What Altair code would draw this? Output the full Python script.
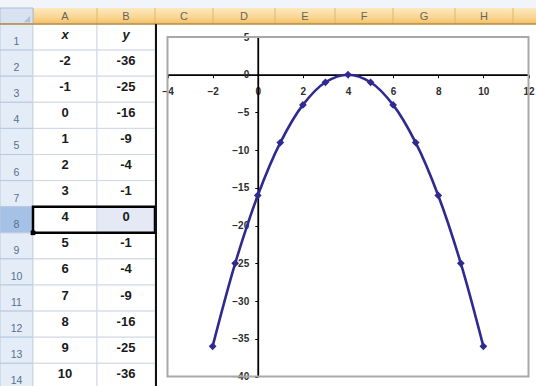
import altair as alt
import pandas as pd

# Worksheet contents: column A holds x, column B holds y = -(x - 4)^2
x_values = [-2, -1, 0, 1, 2, 3, 4, 5, 6, 7, 8, 9, 10]
y_values = [-36, -25, -16, -9, -4, -1, 0, -1, -4, -9, -16, -25, -36]
column_headers = ["x", "y"]
column_letters = ["A", "B", "C", "D", "E", "F", "G", "H", "I"]
row_numbers = list(range(1, 15))

# Embedded chart ticks
x_ticks = [-4, -2, 0, 2, 4, 6, 8, 10, 12]
y_ticks = [5, 0, -5, -10, -15, -20, -25, -30, -35, -40]
X_DOMAIN = [-4, 12]
Y_DOMAIN = [-40, 5]

# ---- layout (pixels) ----
W, H = 536, 386
ROW_HEAD_W = 33
COL_WIDTHS = [64, 58, 58, 62, 60, 58, 62, 58, 60]
HEAD_TOP, HEAD_BOTTOM = 8, 24
ROW_H = 26.1
ACTIVE_ROW = 8
CHART_LEFT = 156
PLOT_X = [167.5, 528.5]   # pixel of x-domain min, max
PLOT_Y = [376.5, 37.0]    # pixel of y-domain min, max
FONT = "Liberation Sans"
SERIES = "#2E2A8F"

# ---- worksheet tables ----
edges = [ROW_HEAD_W]
for w in COL_WIDTHS:
    edges.append(edges[-1] + w)
cols = pd.DataFrame({"letter": column_letters, "x0": edges[:-1], "x1": edges[1:]})
cols["xc"] = (cols.x0 + cols.x1) / 2
cols["y0"] = HEAD_TOP
cols["y1"] = HEAD_BOTTOM
cols["ym"] = (HEAD_TOP + HEAD_BOTTOM) / 2 + 0.5
cols["shown"] = cols.xc < W  # letters whose centre falls inside the window

rows = pd.DataFrame({"row": row_numbers})
rows["y0"] = HEAD_BOTTOM + (rows.row - 1) * ROW_H
rows["y1"] = rows.y0 + ROW_H
rows["ylab"] = rows.y0 + 18
rows["active"] = rows.row == ACTIVE_ROW
rows["x0"] = 0
rows["x1"] = ROW_HEAD_W
rows["xc"] = ROW_HEAD_W / 2

cell_recs = []
for r in row_numbers:
    y0 = HEAD_BOTTOM + (r - 1) * ROW_H
    for ci, letter in enumerate(["A", "B"]):
        if r == 1:
            txt = column_headers[ci]
        else:
            txt = str((x_values if ci == 0 else y_values)[r - 2])
        cell_recs.append({
            "x0": edges[ci], "x1": edges[ci + 1], "xc": (edges[ci] + edges[ci + 1]) / 2,
            "y0": y0, "y1": y0 + ROW_H, "ym": y0 + 10.5,
            "text": txt, "header": r == 1,
            "tint": (r == ACTIVE_ROW and letter == "B"),
        })
cells = pd.DataFrame(cell_recs)

sel = pd.DataFrame({
    "x0": [edges[0]], "x1": [edges[2]],
    "y0": [HEAD_BOTTOM + (ACTIVE_ROW - 1) * ROW_H],
    "y1": [HEAD_BOTTOM + ACTIVE_ROW * ROW_H],
})
strip = pd.DataFrame({"x0": [0], "x1": [W], "y0": [0], "y1": [HEAD_TOP]})
corner = pd.DataFrame({"x0": [0], "x1": [ROW_HEAD_W], "y0": [HEAD_TOP], "y1": [HEAD_BOTTOM],
                       "tx": [ROW_HEAD_W - 6], "ty": [HEAD_BOTTOM - 5]})
head_line = pd.DataFrame({"x0": [0], "x1": [W], "y": [HEAD_BOTTOM]})
chart_edge = pd.DataFrame({"x": [CHART_LEFT], "y0": [HEAD_BOTTOM], "y1": [H]})

sx = alt.Scale(domain=[0, W], range=[0, W], nice=False, zero=False)
sy = alt.Scale(domain=[0, H], range=[0, H], nice=False, zero=False)


def SX(f):
    return alt.X(f"{f}:Q", scale=sx, axis=None)


def SY(f):
    return alt.Y(f"{f}:Q", scale=sy, axis=None)


orange = alt.LinearGradient(
    gradient="linear", x1=0, x2=0, y1=0, y2=1,
    stops=[alt.GradientStop(color="#FCE9C0", offset=0),
           alt.GradientStop(color="#F9D796", offset=0.55),
           alt.GradientStop(color="#F4C063", offset=1)],
)

cell_text = dict(font=FONT, fontSize=13, fontWeight="bold", color="#1A1A1A",
                 baseline="middle", align="center")

sheet = alt.layer(
    alt.Chart(strip).mark_rect(fill="#F1F5FB").encode(
        x=SX("x0"), x2="x1", y=SY("y0"), y2="y1"),
    alt.Chart(cols).mark_rect(fill=orange).encode(
        x=SX("x0"), x2="x1", y=SY("y0"), y2="y1"),
    alt.Chart(cols).mark_rule(color="#E2B66A", strokeWidth=1).encode(
        x=SX("x0"), y=SY("y0"), y2="y1"),
    alt.Chart(cols).transform_filter("datum.shown").mark_text(
        font=FONT, fontSize=11, color="#6A6458", baseline="middle", align="center").encode(
        x=SX("xc"), y=SY("ym"), text="letter"),
    alt.Chart(corner).mark_rect(fill="#D8E2F0", stroke="#A9BDD6", strokeWidth=1).encode(
        x=SX("x0"), x2="x1", y=SY("y0"), y2="y1"),
    alt.Chart(corner).mark_point(shape="M 1 -1 L 1 1 L -1 1 Z", filled=True, size=40,
                                 color="#AFC2DC", opacity=1).encode(
        x=SX("tx"), y=SY("ty")),
    alt.Chart(rows).mark_rect(stroke="#B7C9E0", strokeWidth=1).encode(
        x=SX("x0"), x2="x1", y=SY("y0"), y2="y1",
        fill=alt.condition("datum.active", alt.value("#A6C1E6"), alt.value("#E4ECF7"))),
    alt.Chart(rows).mark_text(font=FONT, fontSize=10.5, color="#56708F",
                              baseline="middle", align="center").encode(
        x=SX("xc"), y=SY("ylab"), text="row:N"),
    alt.Chart(cells).mark_rect(stroke="#D0D7E5", strokeWidth=1).encode(
        x=SX("x0"), x2="x1", y=SY("y0"), y2="y1",
        fill=alt.condition("datum.tint", alt.value("#E4E9F5"), alt.value("#FFFFFF"))),
    alt.Chart(cells).transform_filter("datum.header").mark_text(
        fontStyle="italic", **cell_text).encode(
        x=SX("xc"), y=SY("ym"), text="text"),
    alt.Chart(cells).transform_filter("!datum.header").mark_text(**cell_text).encode(
        x=SX("xc"), y=SY("ym"), text="text"),
    alt.Chart(sel).mark_rect(fill="transparent", stroke="#000000", strokeWidth=2.5).encode(
        x=SX("x0"), x2="x1", y=SY("y0"), y2="y1"),
    alt.Chart(sel).mark_square(size=22, color="#000000", opacity=1).encode(
        x=SX("x0"), y=SY("y1")),
    alt.Chart(head_line).mark_rule(color="#B98B42", strokeWidth=1.5).encode(
        x=SX("x0"), x2="x1", y=SY("y")),
    alt.Chart(chart_edge).mark_rule(color="#111111", strokeWidth=2).encode(
        x=SX("x"), y=SY("y0"), y2="y1"),
)

# ---- embedded XY chart ----
series = pd.DataFrame({"x": x_values, "y": y_values})
frame = pd.DataFrame({"x0": [X_DOMAIN[0]], "x1": [X_DOMAIN[1]],
                      "y0": [Y_DOMAIN[0]], "y1": [Y_DOMAIN[1]]})

xs = alt.Scale(domain=X_DOMAIN, range=PLOT_X, nice=False, zero=False)
ys = alt.Scale(domain=Y_DOMAIN, range=PLOT_Y, nice=False, zero=False)

# pixel positions of the origin, where the axes cross
y_origin = PLOT_Y[1] + (Y_DOMAIN[1] - 0) / (Y_DOMAIN[1] - Y_DOMAIN[0]) * (PLOT_Y[0] - PLOT_Y[1])
x_origin = PLOT_X[0] + (0 - X_DOMAIN[0]) / (X_DOMAIN[1] - X_DOMAIN[0]) * (PLOT_X[1] - PLOT_X[0])

axis_style = dict(title=None, grid=False, domainColor="#000000", domainWidth=1.8,
                  tickColor="#000000", tickSize=3, tickWidth=1, labelFont=FONT,
                  labelFontSize=10, labelFontWeight="bold", labelColor="#2E2E2E",
                  labelFlush=False, labelOverlap=False, format="d")
x_axis = alt.Axis(values=x_ticks, orient="bottom", offset=-(H - y_origin),
                  labelPadding=9, **axis_style)
y_axis = alt.Axis(values=y_ticks, orient="left", offset=-x_origin,
                  labelPadding=6, **axis_style)

plot = alt.layer(
    alt.Chart(frame).mark_rect(fill="transparent", stroke="#A8A8A8", strokeWidth=2).encode(
        x=alt.X("x0:Q", scale=xs, axis=x_axis), x2="x1",
        y=alt.Y("y0:Q", scale=ys, axis=y_axis), y2="y1"),
    alt.Chart(series).mark_line(color=SERIES, strokeWidth=2.6, interpolate="catmull-rom").encode(
        x=alt.X("x:Q", scale=xs, axis=x_axis),
        y=alt.Y("y:Q", scale=ys, axis=y_axis)),
    alt.Chart(series).mark_point(shape="diamond", filled=True, size=60, color=SERIES,
                                 opacity=1).encode(
        x=alt.X("x:Q", scale=xs, axis=x_axis),
        y=alt.Y("y:Q", scale=ys, axis=y_axis)),
)

chart = (
    alt.layer(sheet, plot)
    .resolve_scale(x="independent", y="independent")
    .properties(width=W, height=H, padding=0, background="white",
                autosize=alt.AutoSizeParams(type="none"))
    .configure_view(strokeWidth=0)
)

chart.save("out.html", embed_options={"renderer": "svg", "actions": False})
